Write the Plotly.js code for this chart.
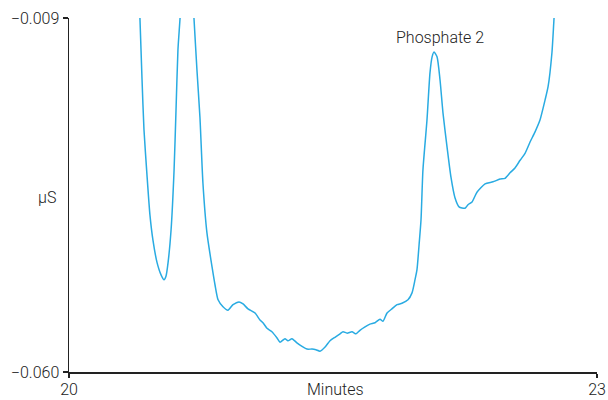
<!DOCTYPE html>
<html>
<head>
<meta charset="utf-8">
<script src="https://cdn.plot.ly/plotly-3.0.1.min.js"></script>
<style>html,body{margin:0;padding:0;background:#fff;}#chart{width:608px;height:400px;}</style>
</head>
<body>
<div id="chart"></div>
<script>
const minutes = [20.395,20.403,20.415,20.426,20.443,20.460,20.477,20.500,20.523,20.540,20.551,20.563,20.580,20.597,20.608,20.619,20.631,20.642,20.670,20.700,20.710,20.727,20.744,20.761,20.784,20.813,20.830,20.847,20.875,20.903,20.932,20.966,20.989,21.017,21.057,21.085,21.102,21.125,21.153,21.182,21.199,21.227,21.244,21.267,21.295,21.324,21.352,21.381,21.403,21.426,21.455,21.483,21.511,21.540,21.557,21.580,21.608,21.631,21.653,21.682,21.710,21.739,21.767,21.784,21.807,21.835,21.864,21.892,21.926,21.949,21.966,21.977,21.989,22.000,22.011,22.034,22.051,22.063,22.074,22.091,22.108,22.125,22.148,22.170,22.193,22.216,22.250,22.267,22.290,22.318,22.364,22.409,22.449,22.477,22.506,22.534,22.563,22.591,22.619,22.648,22.676,22.705,22.722,22.744,22.756,22.767];
const microS = [-0.0040,-0.0090,-0.0179,-0.0251,-0.0316,-0.0374,-0.0410,-0.0442,-0.0460,-0.0467,-0.0462,-0.0442,-0.0395,-0.0309,-0.0223,-0.0136,-0.0090,-0.0035,0.0050,-0.0040,-0.0090,-0.0165,-0.0233,-0.0328,-0.0400,-0.0449,-0.0475,-0.0496,-0.0506,-0.0511,-0.0503,-0.0499,-0.0502,-0.0509,-0.0515,-0.0525,-0.0529,-0.0537,-0.0542,-0.0551,-0.0557,-0.0552,-0.0555,-0.0552,-0.0558,-0.0563,-0.0567,-0.0567,-0.0568,-0.0570,-0.0564,-0.0555,-0.0550,-0.0545,-0.0542,-0.0544,-0.0542,-0.0545,-0.0540,-0.0535,-0.0531,-0.0529,-0.0524,-0.0527,-0.0515,-0.0509,-0.0503,-0.0501,-0.0496,-0.0486,-0.0467,-0.0453,-0.0417,-0.0381,-0.0309,-0.0237,-0.0169,-0.0146,-0.0139,-0.0146,-0.0179,-0.0227,-0.0276,-0.0319,-0.0349,-0.0362,-0.0364,-0.0359,-0.0355,-0.0341,-0.0329,-0.0326,-0.0322,-0.0321,-0.0313,-0.0306,-0.0295,-0.0285,-0.0269,-0.0254,-0.0237,-0.0208,-0.0189,-0.0140,-0.0090,-0.0050];
const xTickVals = [20, 23];
const xTickText = ['20', '23'];
const yTickVals = [-0.060, -0.009];
const yTickText = ['\u22120.060', '\u22120.009'];
const peakLabel = 'Phosphate 2';
const peakX = 22.074, peakY = -0.0139;

const font = {family: 'Roboto, "Liberation Sans", sans-serif', size: 16, color: '#222', weight: 300};

Plotly.newPlot('chart', [{
  x: minutes, y: microS, type: 'scatter', mode: 'lines',
  line: {color: '#29abe2', width: 1.5, shape: 'spline', smoothing: 0.6},
  hoverinfo: 'none'
}], {
  width: 608, height: 400,
  margin: {l: 69, r: 11, t: 18, b: 28},
  paper_bgcolor: '#fff', plot_bgcolor: '#fff',
  showlegend: false,
  font: font,
  xaxis: {range: [20, 23], tickvals: xTickVals, ticktext: xTickText, showgrid: false, zeroline: false,
          showline: true, linecolor: '#222', linewidth: 1.5, ticks: 'outside', ticklen: 4, tickcolor: '#222', tickwidth: 1.5, ticklabelstandoff: -2, tickfont: font},
  yaxis: {range: [-0.060, -0.009], tickvals: yTickVals, ticktext: yTickText, showgrid: false, zeroline: false,
          showline: true, linecolor: '#222', linewidth: 1.5, ticks: 'outside', ticklen: 5, tickcolor: '#222', tickwidth: 1.5, tickfont: font},
  annotations: [
    {x: peakX, y: peakY, xref: 'x', yref: 'y', text: peakLabel, showarrow: false, xanchor: 'center', yanchor: 'bottom', xshift: 6, yshift: 3, font: font},
    {x: 0.505, y: 0, xref: 'paper', yref: 'paper', text: 'Minutes', showarrow: false, xanchor: 'center', yanchor: 'top', yshift: -6, font: font},
    {x: 0, y: 0.5, xref: 'paper', yref: 'paper', text: '\u00b5S', showarrow: false, xanchor: 'right', yanchor: 'middle', xshift: -11, yshift: -2, font: font}
  ]
}, {staticPlot: true, displayModeBar: false});
</script>
</body>
</html>
